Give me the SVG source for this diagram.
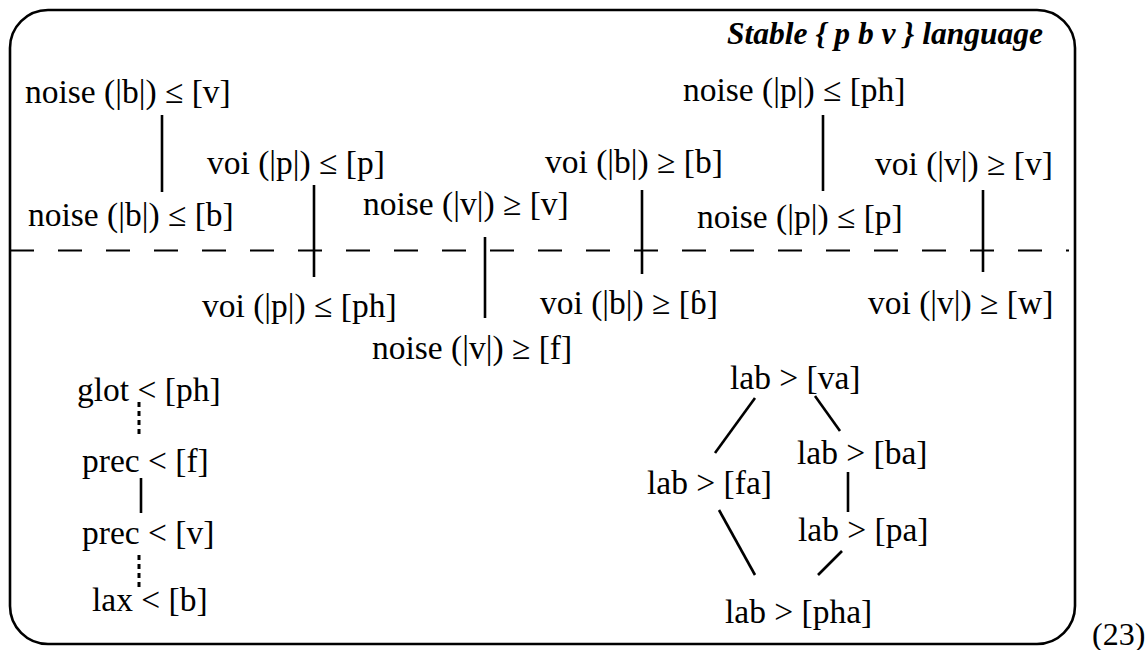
<svg xmlns="http://www.w3.org/2000/svg" width="1148" height="650" viewBox="0 0 1148 650">
<style>
text{font-family:"Liberation Serif","Times New Roman",serif;font-size:33.5px;fill:#000}
.title{font-weight:bold;font-style:italic;font-size:31.5px}
.ln{stroke:#000;stroke-width:2.6;fill:none}
.dot{stroke:#000;stroke-width:3;fill:none;stroke-dasharray:5 4}
</style>
<rect x="10" y="10" width="1065" height="634" rx="38" ry="38" fill="#fff" stroke="#000" stroke-width="2.6"/>
<text class="title" x="1043" y="44" text-anchor="end">Stable { p b v } language</text>
<line x1="10" y1="250.5" x2="1069" y2="250.5" stroke="#000" stroke-width="2.2" stroke-dasharray="24 24"/>
<g id="connectors">
<line class="ln" x1="162" y1="115" x2="162" y2="192"/>
<line class="ln" x1="314" y1="185" x2="314" y2="277"/>
<line class="ln" x1="485" y1="237" x2="485" y2="318"/>
<line class="ln" x1="642" y1="190" x2="642" y2="274"/>
<line class="ln" x1="823" y1="115" x2="823" y2="191"/>
<line class="ln" x1="983" y1="190" x2="983" y2="272"/>
<line class="dot" x1="139" y1="402" x2="139" y2="436"/>
<line class="ln" x1="141" y1="478" x2="141" y2="513"/>
<line class="dot" x1="139" y1="555" x2="139" y2="588"/>
<line class="ln" x1="755" y1="398" x2="715" y2="453"/>
<line class="ln" x1="815" y1="396" x2="840" y2="431"/>
<line class="ln" x1="848" y1="472" x2="848" y2="512"/>
<line class="ln" x1="719" y1="510" x2="755" y2="575"/>
<line class="ln" x1="842" y1="551" x2="818" y2="575"/>
</g>
<g id="n1"><text x="25" y="103">noise (|b|) ≤ [v]</text></g>
<g id="n2"><text x="28" y="226">noise (|b|) ≤ [b]</text></g>
<g id="n3"><text x="207" y="174">voi (|p|) ≤ [p]</text></g>
<g id="n4"><text x="202" y="317">voi (|p|) ≤ [ph]</text></g>
<g id="n5"><text x="363" y="215">noise (|v|) ≥ [v]</text></g>
<g id="n6"><text x="372" y="359">noise (|v|) ≥ [f]</text></g>
<g id="n7"><text x="545" y="173">voi (|b|) ≥ [b]</text></g>
<g id="n8"><text x="540" y="314">voi (|b|) ≥ [ɓ]</text></g>
<g id="n9"><text x="683" y="101">noise (|p|) ≤ [ph]</text></g>
<g id="n10"><text x="697" y="228">noise (|p|) ≤ [p]</text></g>
<g id="n11"><text x="875" y="175">voi (|v|) ≥ [v]</text></g>
<g id="n12"><text x="868" y="314">voi (|v|) ≥ [w]</text></g>
<g id="n13"><text x="77" y="401">glot &lt; [ph]</text></g>
<g id="n14"><text x="82" y="472">prec &lt; [f]</text></g>
<g id="n15"><text x="82" y="544">prec &lt; [v]</text></g>
<g id="n16"><text x="92" y="611">lax &lt; [b]</text></g>
<g id="n17"><text x="730" y="389">lab &gt; [va]</text></g>
<g id="n18"><text x="797" y="464">lab &gt; [ba]</text></g>
<g id="n19"><text x="647" y="494">lab &gt; [fa]</text></g>
<g id="n20"><text x="798" y="541">lab &gt; [pa]</text></g>
<g id="n21"><text x="725" y="623">lab &gt; [pha]</text></g>
<text x="1092" y="645" style="font-size:32px">(23)</text>
</svg>
